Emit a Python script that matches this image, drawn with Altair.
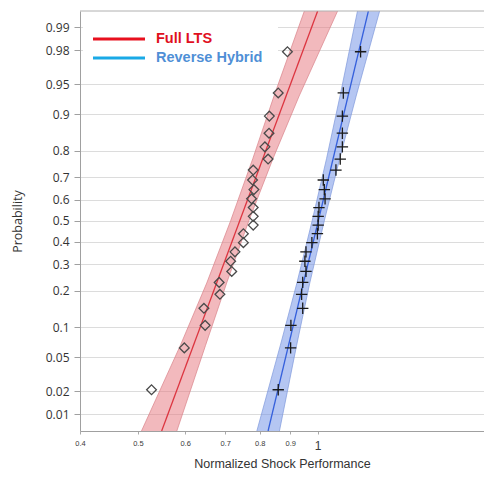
import altair as alt
import pandas as pd
from statistics import NormalDist

ND = NormalDist()

# ---------------- data ----------------
series_names = ["Full LTS", "Reverse Hybrid"]

# plotting positions (probabilities) of the 24 ordered observations
probs = [0.021, 0.063, 0.104, 0.146, 0.188, 0.229, 0.271, 0.313, 0.354, 0.396,
         0.438, 0.479, 0.521, 0.563, 0.604, 0.646, 0.688, 0.729, 0.771, 0.813,
         0.854, 0.896, 0.938, 0.979]

full_lts = [0.527, 0.598, 0.648, 0.645, 0.686, 0.684, 0.718, 0.715, 0.727, 0.751,
            0.751, 0.780, 0.780, 0.780, 0.775, 0.782, 0.778, 0.780, 0.826, 0.816,
            0.829, 0.830, 0.859, 0.890]

reverse_hybrid = [0.859, 0.901, 0.902, 0.944, 0.940, 0.944, 0.956, 0.952, 0.956, 0.978,
                  0.999, 1.002, 1.002, 1.005, 1.029, 1.026, 1.022, 1.073, 1.091, 1.100,
                  1.100, 1.100, 1.104, 1.180]

# fitted lines (end points) and confidence bands
fit_probs = [0.0057, 0.9942]
full_lts_fit = [0.548, 1.000]
reverse_hybrid_fit = [0.826, 1.216]

band_probs = [0.0057, 0.0668, 0.2266, 0.5, 0.7734, 0.9332, 0.9942]
full_lts_lo = [0.507, 0.589, 0.652, 0.715, 0.779, 0.845, 0.950]
full_lts_hi = [0.581, 0.649, 0.704, 0.767, 0.842, 0.931, 1.080]
reverse_hybrid_lo = [0.791, 0.866, 0.923, 0.979, 1.035, 1.090, 1.166]
reverse_hybrid_hi = [0.863, 0.922, 0.970, 1.026, 1.089, 1.160, 1.270]

y_tick_probs = [0.01, 0.02, 0.05, 0.1, 0.2, 0.3, 0.4, 0.5, 0.6, 0.7, 0.8, 0.9, 0.95, 0.98, 0.99]
y_tick_labels = ["0.01", "0.02", "0.05", "0.1", "0.2", "0.3", "0.4", "0.5", "0.6", "0.7",
                 "0.8", "0.9", "0.95", "0.98", "0.99"]
x_ticks = [0.4, 0.5, 0.6, 0.7, 0.8, 0.9, 1.0]
x_domain = [0.4, 1.899]

# ---------------- tables ----------------
def z(p):
    return ND.inv_cdf(p)

pts_lts = pd.DataFrame({"x": full_lts, "z": [z(p) for p in probs]})
pts_rh = pd.DataFrame({"x": reverse_hybrid, "z": [z(p) for p in probs]})
fit_lts = pd.DataFrame({"x": full_lts_fit, "z": [z(p) for p in fit_probs]})
fit_rh = pd.DataFrame({"x": reverse_hybrid_fit, "z": [z(p) for p in fit_probs]})
band_lts = pd.DataFrame({"lo": full_lts_lo, "hi": full_lts_hi, "z": [z(p) for p in band_probs]})
band_rh = pd.DataFrame({"lo": reverse_hybrid_lo, "hi": reverse_hybrid_hi, "z": [z(p) for p in band_probs]})

y_tick_z = [z(p) for p in y_tick_probs]
z_domain = [z(fit_probs[0]), z(fit_probs[1])]

# label expression for the probability axis
expr = "'" + y_tick_labels[-1] + "'"
for i in range(len(y_tick_z) - 2, -1, -1):
    mid = (y_tick_z[i] + y_tick_z[i + 1]) / 2
    expr = f"datum.value < {mid:.5f} ? '{y_tick_labels[i]}' : ({expr})"

W, H = 404, 420
FONT = "Open Sans"
XFONT = "Liberation Sans"

xscale = alt.Scale(type="log", domain=x_domain, nice=False)
yscale = alt.Scale(domain=z_domain, nice=False, zero=False)

xaxis = alt.Axis(
    values=x_ticks,
    labelExpr="datum.value == 1 ? '1' : format(datum.value, '.1f')",
    title="Normalized Shock Performance",
    grid=False, labelFlush=False, labelOverlap=False,
    tickSize=3, tickColor="#aaaaaa", domainColor="#a0a0a0",
    labelFont=XFONT, labelColor="#3a3a3a",
    labelFontSize={"condition": {"test": "datum.value == 1", "value": 12}, "value": 7.5},
    labelPadding={"condition": {"test": "datum.value == 1", "value": 6}, "value": 5},
    titleFont=XFONT, titleFontSize=12.5, titleFontWeight="normal", titleColor="#333333",
    titleY=32, titleBaseline="middle",
)
yaxis = alt.Axis(
    values=y_tick_z, labelExpr=expr,
    title="Probability",
    grid=True, gridColor="#dcdcdc", gridWidth=1,
    labelOverlap=False, labelFlush=False,
    tickSize=6, tickColor="#a0a0a0", domainColor="#a0a0a0",
    labelFont=FONT, labelFontSize=12, labelColor="#333333", labelPadding=5,
    titleFont=FONT, titleFontSize=12.5, titleFontWeight="normal", titleColor="#333333",
    titleX=-56,
)

def X(field):
    return alt.X(field, type="quantitative", scale=xscale, axis=xaxis)

def Y():
    return alt.Y("z:Q", scale=yscale, axis=yaxis)


def band_layers(df, fill, edge):
    area = alt.Chart(df).mark_area(orient="horizontal", color=fill, opacity=0.5, clip=True).encode(
        y=Y(), x=X("lo"), x2="hi:Q")
    lo = alt.Chart(df).mark_line(color=edge, strokeWidth=1, opacity=0.7, clip=True).encode(
        y=Y(), x=X("lo"), order="z:Q")
    hi = alt.Chart(df).mark_line(color=edge, strokeWidth=1, opacity=0.7, clip=True).encode(
        y=Y(), x=X("hi"), order="z:Q")
    return [area, lo, hi]


layers = []
layers += band_layers(band_lts, "#e5737c", "#d98189")
layers += band_layers(band_rh, "#6b8ee6", "#7f98dc")

layers.append(alt.Chart(fit_lts).mark_line(color="#dc3540", strokeWidth=1.3, clip=True).encode(
    y=Y(), x=X("x"), order="z:Q"))
layers.append(alt.Chart(fit_rh).mark_line(color="#3560dc", strokeWidth=1.3, clip=True).encode(
    y=Y(), x=X("x"), order="z:Q"))

layers.append(alt.Chart(pts_lts).mark_point(shape="diamond", filled=False, size=95,
                                              color="#4a4a4a", strokeWidth=1.3, opacity=1).encode(
    y=Y(), x=X("x")))
layers.append(alt.Chart(pts_rh).mark_point(shape="M-1,0L1,0M0,-1L0,1", filled=False, size=130,
                                             color="#1a1a1a", strokeWidth=1.3, opacity=1).encode(
    y=Y(), x=X("x")))

# legend (drawn in the plot's top-left corner)
one = pd.DataFrame({"a": [0]})
legend_line_colors = ["#e8101e", "#1aa9e6"]
legend_text_colors = ["#e0101e", "#4f8fd6"]
layers.append(alt.Chart(one).mark_rect(color="white").encode(
    x=alt.value(3), x2=alt.value(198), y=alt.value(1), y2=alt.value(54)))
for i, name in enumerate(series_names):
    yy = 28 + 19 * i
    layers.append(alt.Chart(one).mark_rule(color=legend_line_colors[i], strokeWidth=3).encode(
        x=alt.value(13), x2=alt.value(65), y=alt.value(yy)))
    layers.append(alt.Chart(one).mark_text(text=name, align="left", baseline="middle",
                                            font="Liberation Sans", fontWeight="bold", fontSize=14.5,
                                            color=legend_text_colors[i]).encode(
        x=alt.value(76), y=alt.value(yy)))

# top frame line
layers.append(alt.Chart(one).mark_rule(color="#b0b0b0", strokeWidth=1).encode(
    x=alt.value(0), x2=alt.value(W), y=alt.value(0)))

chart = alt.layer(*layers).properties(
    width=W, height=H,
    autosize=alt.AutoSizeParams(type="none"),
    padding={"left": 72, "top": 3, "right": 0, "bottom": 40},
    background="white",
).configure_view(stroke=None)

chart.save("out.html", embed_options={"renderer": "svg", "actions": False})
